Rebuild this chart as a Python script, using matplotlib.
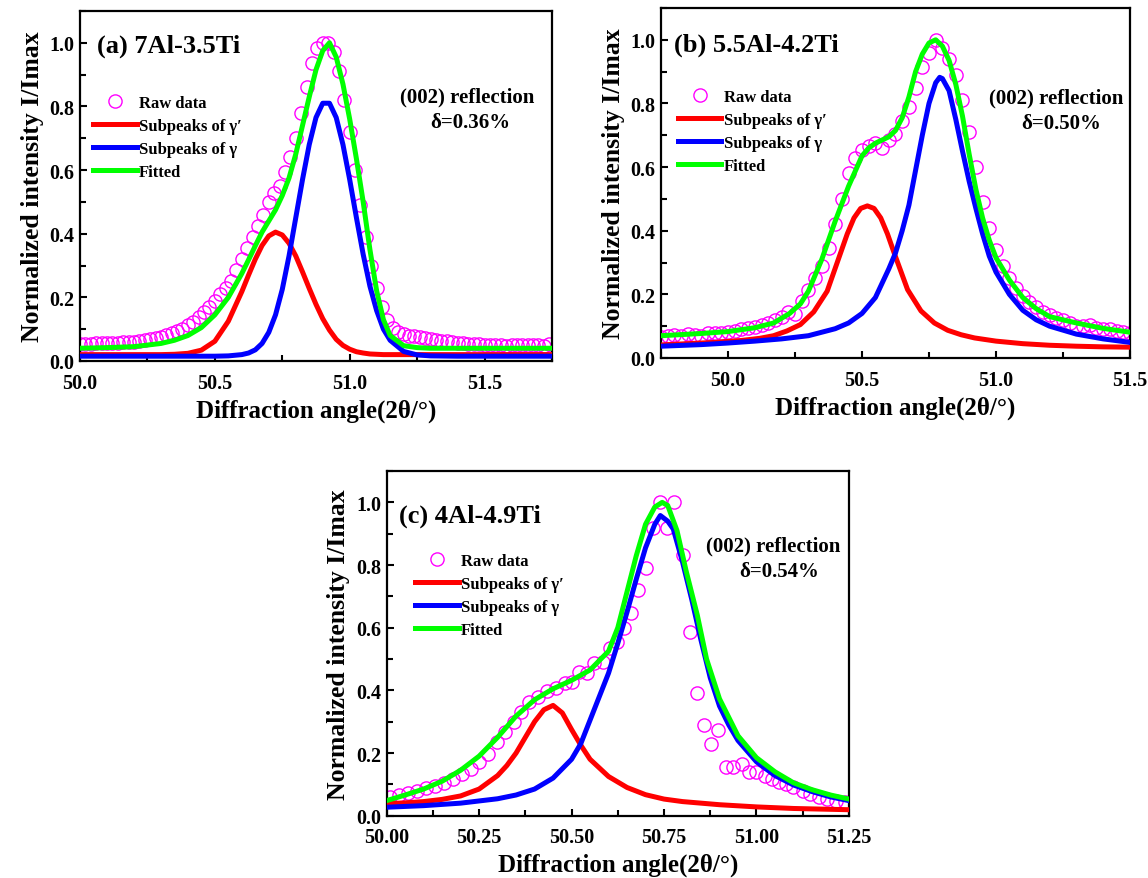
import matplotlib
matplotlib.use("Agg")
import matplotlib.pyplot as plt
from matplotlib.ticker import MultipleLocator, FormatStrFormatter

plt.rcParams['font.family'] = ['Liberation Serif', 'DejaVu Serif']
plt.rcParams['font.weight'] = 'bold'
plt.rcParams['axes.labelweight'] = 'bold'

# ---------------- (a) 7Al-3.5Ti ----------------
raw_x_a = [50.00, 50.02, 50.04, 50.06, 50.08, 50.10, 50.12, 50.14, 50.16, 50.18,
           50.20, 50.22, 50.24, 50.26, 50.28, 50.30, 50.32, 50.34, 50.36, 50.38,
           50.40, 50.42, 50.44, 50.46, 50.48, 50.50, 50.52, 50.54, 50.56, 50.58,
           50.60, 50.62, 50.64, 50.66, 50.68, 50.70, 50.72, 50.74, 50.76, 50.78,
           50.80, 50.82, 50.84, 50.86, 50.88, 50.90, 50.92, 50.94, 50.96, 50.98,
           51.00, 51.02, 51.04, 51.06, 51.08, 51.10, 51.12, 51.14, 51.16, 51.18,
           51.20, 51.22, 51.24, 51.26, 51.28, 51.30, 51.32, 51.34, 51.36, 51.38,
           51.40, 51.42, 51.44, 51.46, 51.48, 51.50, 51.52, 51.54, 51.56, 51.58,
           51.60, 51.62, 51.64, 51.66, 51.68, 51.70, 51.72, 51.74]
raw_y_a = [0.052, 0.053, 0.054, 0.055, 0.056, 0.057, 0.058, 0.058, 0.059, 0.060,
           0.061, 0.063, 0.065, 0.068, 0.072, 0.076, 0.081, 0.087, 0.094, 0.102,
           0.112, 0.123, 0.137, 0.153, 0.171, 0.190, 0.210, 0.230, 0.250, 0.285,
           0.320, 0.355, 0.390, 0.425, 0.460, 0.500, 0.528, 0.550, 0.595, 0.640,
           0.700, 0.780, 0.860, 0.935, 0.985, 1.000, 1.000, 0.970, 0.910, 0.820,
           0.720, 0.600, 0.490, 0.390, 0.300, 0.230, 0.170, 0.130, 0.105, 0.092,
           0.085, 0.080, 0.077, 0.074, 0.071, 0.068, 0.066, 0.064, 0.062, 0.060,
           0.058, 0.056, 0.054, 0.053, 0.052, 0.051, 0.050, 0.049, 0.050, 0.048,
           0.050, 0.049, 0.050, 0.051, 0.049, 0.050, 0.048, 0.052]
fit_x_a = [50.0, 50.1, 50.2, 50.3, 50.35, 50.4, 50.45, 50.5, 50.55, 50.6,
           50.625, 50.65, 50.675, 50.7, 50.725, 50.75, 50.775, 50.8, 50.825, 50.85,
           50.875, 50.9, 50.925, 50.95, 50.975, 51.0, 51.025, 51.05, 51.075, 51.1,
           51.125, 51.15, 51.2, 51.25, 51.3, 51.4, 51.5, 51.6, 51.75]
gamma_prime_a = [0.020, 0.020, 0.020, 0.020, 0.021, 0.024, 0.034, 0.062, 0.125, 0.218,
                 0.270, 0.320, 0.363, 0.393, 0.405, 0.396, 0.370, 0.330, 0.280, 0.228,
                 0.178, 0.133, 0.097, 0.068, 0.049, 0.037, 0.029, 0.025, 0.022, 0.021,
                 0.020, 0.020, 0.020, 0.020, 0.020, 0.020, 0.020, 0.020, 0.020]
gamma_a = [0.015, 0.015, 0.015, 0.015, 0.015, 0.015, 0.015, 0.015, 0.016, 0.020,
           0.025, 0.035, 0.055, 0.090, 0.145, 0.225, 0.330, 0.450, 0.570, 0.680,
           0.765, 0.810, 0.810, 0.765, 0.680, 0.570, 0.450, 0.335, 0.235, 0.158,
           0.100, 0.065, 0.030, 0.019, 0.016, 0.015, 0.015, 0.015, 0.015]
fitted_a = [0.040, 0.042, 0.045, 0.055, 0.065, 0.080, 0.105, 0.145, 0.200, 0.275,
            0.318, 0.362, 0.405, 0.440, 0.475, 0.520, 0.575, 0.650, 0.740, 0.830,
            0.915, 0.975, 1.000, 0.955, 0.870, 0.760, 0.635, 0.500, 0.350, 0.220,
            0.130, 0.080, 0.048, 0.042, 0.040, 0.040, 0.040, 0.040, 0.040]

# ---------------- (b) 5.5Al-4.2Ti ----------------
raw_x_b = [49.750, 49.775, 49.800, 49.825, 49.850, 49.875, 49.900, 49.925, 49.950, 49.975,
           50.000, 50.025, 50.050, 50.075, 50.100, 50.125, 50.150, 50.175, 50.200, 50.225,
           50.250, 50.275, 50.300, 50.325, 50.350, 50.375, 50.400, 50.425, 50.450, 50.475,
           50.500, 50.525, 50.550, 50.575, 50.600, 50.625, 50.650, 50.675, 50.700, 50.725,
           50.750, 50.775, 50.800, 50.825, 50.850, 50.875, 50.900, 50.925, 50.950, 50.975,
           51.000, 51.025, 51.050, 51.075, 51.100, 51.125, 51.150, 51.175, 51.200, 51.225,
           51.250, 51.275, 51.300, 51.325, 51.350, 51.375, 51.400, 51.425, 51.450, 51.475,
           51.500]
raw_y_b = [0.065, 0.070, 0.072, 0.068, 0.075, 0.073, 0.070, 0.078, 0.080, 0.077,
           0.082, 0.086, 0.090, 0.094, 0.098, 0.104, 0.110, 0.118, 0.128, 0.145,
           0.138, 0.180, 0.215, 0.250, 0.290, 0.345, 0.420, 0.500, 0.580, 0.630,
           0.655, 0.665, 0.675, 0.660, 0.685, 0.705, 0.745, 0.790, 0.850, 0.915,
           0.960, 1.000, 0.975, 0.940, 0.890, 0.810, 0.710, 0.600, 0.490, 0.410,
           0.340, 0.290, 0.250, 0.220, 0.195, 0.175, 0.160, 0.145, 0.135, 0.125,
           0.118, 0.110, 0.100, 0.100, 0.105, 0.095, 0.092, 0.090, 0.086, 0.082,
           0.080]
gp_x_b = [49.75, 49.85, 49.95, 50.05, 50.12, 50.17, 50.22, 50.27, 50.32, 50.37,
          50.42, 50.445, 50.47, 50.495, 50.52, 50.545, 50.57, 50.595, 50.62, 50.67,
          50.72, 50.77, 50.82, 50.87, 50.92, 51.0, 51.1, 51.2, 51.3, 51.4, 51.5]
gamma_prime_b = [0.041, 0.045, 0.049, 0.055, 0.062, 0.070, 0.085, 0.105, 0.145, 0.210,
                 0.330, 0.390, 0.440, 0.470, 0.478, 0.470, 0.440, 0.390, 0.330, 0.215,
                 0.148, 0.110, 0.087, 0.073, 0.063, 0.053, 0.045, 0.040, 0.037, 0.035, 0.034]
g_x_b = [49.75, 49.9, 50.0, 50.1, 50.2, 50.3, 50.4, 50.45, 50.5, 50.55,
         50.6, 50.625, 50.65, 50.675, 50.7, 50.725, 50.75, 50.775, 50.79, 50.8,
         50.825, 50.85, 50.875, 50.9, 50.925, 50.95, 50.975, 51.0, 51.05, 51.1,
         51.15, 51.2, 51.3, 51.4, 51.5]
gamma_b = [0.037, 0.042, 0.047, 0.053, 0.060, 0.070, 0.092, 0.110, 0.140, 0.190,
           0.280, 0.330, 0.400, 0.480, 0.590, 0.700, 0.800, 0.865, 0.882, 0.878,
           0.840, 0.750, 0.650, 0.555, 0.470, 0.390, 0.320, 0.270, 0.200, 0.150,
           0.120, 0.100, 0.075, 0.060, 0.049]
fit_x_b = [49.75, 49.9, 50.0, 50.1, 50.17, 50.23, 50.27, 50.3, 50.35, 50.4,
           50.45, 50.5, 50.525, 50.55, 50.6, 50.625, 50.65, 50.675, 50.7, 50.725,
           50.75, 50.775, 50.8, 50.825, 50.85, 50.875, 50.9, 50.925, 50.95, 50.975,
           51.0, 51.05, 51.1, 51.15, 51.2, 51.3, 51.4, 51.5]
fitted_b = [0.070, 0.077, 0.083, 0.095, 0.110, 0.140, 0.170, 0.210, 0.310, 0.430,
            0.540, 0.635, 0.660, 0.675, 0.695, 0.715, 0.755, 0.820, 0.900, 0.955,
            0.990, 1.000, 0.980, 0.935, 0.860, 0.760, 0.640, 0.530, 0.440, 0.370,
            0.315, 0.245, 0.190, 0.155, 0.130, 0.110, 0.093, 0.081]

# ---------------- (c) 4Al-4.9Ti ----------------
raw_x_c = [50.010, 50.034, 50.058, 50.082, 50.106, 50.130, 50.154, 50.179, 50.203, 50.227,
           50.251, 50.275, 50.299, 50.319, 50.343, 50.362, 50.386, 50.410, 50.434, 50.458,
           50.483, 50.502, 50.521, 50.541, 50.560, 50.584, 50.603, 50.623, 50.642, 50.661,
           50.680, 50.700, 50.719, 50.738, 50.758, 50.777, 50.801, 50.820, 50.840, 50.859,
           50.878, 50.897, 50.917, 50.936, 50.960, 50.980, 51.000, 51.023, 51.042, 51.062,
           51.081, 51.100, 51.125, 51.144, 51.168, 51.192, 51.216, 51.240]
raw_y_c = [0.059, 0.066, 0.072, 0.080, 0.088, 0.096, 0.105, 0.117, 0.133, 0.149,
           0.171, 0.197, 0.235, 0.267, 0.299, 0.331, 0.363, 0.379, 0.397, 0.406,
           0.422, 0.427, 0.459, 0.454, 0.486, 0.491, 0.534, 0.555, 0.598, 0.646,
           0.720, 0.790, 0.918, 1.000, 0.918, 1.000, 0.832, 0.587, 0.390, 0.288,
           0.229, 0.272, 0.155, 0.155, 0.165, 0.139, 0.139, 0.128, 0.117, 0.107,
           0.101, 0.091, 0.080, 0.069, 0.059, 0.053, 0.048, 0.043]
gp_x_c = [50.0, 50.05, 50.1, 50.15, 50.2, 50.25, 50.3, 50.325, 50.35, 50.375,
          50.4, 50.425, 50.45, 50.475, 50.5, 50.525, 50.55, 50.6, 50.65, 50.7,
          50.75, 50.8, 50.9, 51.0, 51.1, 51.25]
gamma_prime_c = [0.038, 0.041, 0.045, 0.052, 0.063, 0.085, 0.128, 0.160, 0.200, 0.250,
                 0.300, 0.338, 0.352, 0.328, 0.275, 0.225, 0.180, 0.125, 0.090, 0.067,
                 0.053, 0.045, 0.035, 0.028, 0.023, 0.019]
g_x_c = [50.0, 50.1, 50.2, 50.3, 50.35, 50.4, 50.45, 50.5, 50.525, 50.55,
         50.575, 50.6, 50.625, 50.65, 50.675, 50.7, 50.725, 50.74, 50.76, 50.775,
         50.8, 50.825, 50.85, 50.875, 50.9, 50.925, 50.95, 51.0, 51.05, 51.1,
         51.15, 51.2, 51.25]
gamma_c = [0.027, 0.032, 0.040, 0.054, 0.066, 0.085, 0.120, 0.180, 0.230, 0.305,
           0.380, 0.455, 0.550, 0.650, 0.755, 0.855, 0.930, 0.958, 0.940, 0.915,
           0.810, 0.690, 0.560, 0.440, 0.350, 0.290, 0.240, 0.172, 0.128, 0.098,
           0.077, 0.060, 0.048]
fit_x_c = [50.0, 50.05, 50.1, 50.15, 50.2, 50.25, 50.3, 50.35, 50.4, 50.45,
           50.5, 50.55, 50.6, 50.625, 50.65, 50.675, 50.7, 50.725, 50.745, 50.76,
           50.785, 50.81, 50.84, 50.865, 50.9, 50.95, 51.0, 51.05, 51.1, 51.15,
           51.2, 51.25]
fitted_c = [0.048, 0.066, 0.085, 0.110, 0.145, 0.190, 0.250, 0.318, 0.370, 0.405,
            0.432, 0.465, 0.525, 0.600, 0.715, 0.830, 0.930, 0.985, 1.000, 0.990,
            0.910, 0.780, 0.640, 0.500, 0.373, 0.255, 0.185, 0.140, 0.105, 0.083,
            0.066, 0.053]

panel_titles = ['(a) 7Al-3.5Ti', '(b) 5.5Al-4.2Ti', '(c) 4Al-4.9Ti']
deltas = ['\u03b4=0.36%', '\u03b4=0.50%', '\u03b4=0.54%']
legend_labels = ['Raw data', 'Subpeaks of \u03b3\u2032', 'Subpeaks of \u03b3', 'Fitted']

panels = [
    dict(rect=[0.0697, 0.5882, 0.4111, 0.3982], xlim=(50.0, 51.75), major=0.5, minor=0.25, fmt='%.1f',
         raw=(raw_x_a, raw_y_a), gp=(fit_x_a, gamma_prime_a), g=(fit_x_a, gamma_a), fit=(fit_x_a, fitted_a),
         title_xy=(0.036, 0.902), refl_xy=(0.82, 0.757), delta_xy=(0.826, 0.683), leg_xy=(0.028, 0.759)),
    dict(rect=[0.5758, 0.5916, 0.4085, 0.3982], xlim=(49.75, 51.5), major=0.5, minor=0.25, fmt='%.1f',
         raw=(raw_x_b, raw_y_b), gp=(gp_x_b, gamma_prime_b), g=(g_x_b, gamma_b), fit=(fit_x_b, fitted_b),
         title_xy=(0.028, 0.895), refl_xy=(0.842, 0.745), delta_xy=(0.853, 0.670), leg_xy=(0.036, 0.768)),
    dict(rect=[0.3368, 0.0709, 0.4027, 0.3921], xlim=(50.0, 51.25), major=0.25, minor=0.125, fmt='%.2f',
         raw=(raw_x_c, raw_y_c), gp=(gp_x_c, gamma_prime_c), g=(g_x_c, gamma_c), fit=(fit_x_c, fitted_c),
         title_xy=(0.027, 0.872), refl_xy=(0.836, 0.785), delta_xy=(0.850, 0.710), leg_xy=(0.062, 0.762)),
]

fig = plt.figure(figsize=(11.48, 8.79), dpi=100)

for i, p in enumerate(panels):
    ax = fig.add_axes(p['rect'])
    ax.plot(*p['raw'], 'o', mfc='none', mec='#FF00FF', ms=9.5, mew=1.0,
            label=legend_labels[0], zorder=2)
    ax.plot(*p['gp'], color='#FF0000', lw=3.6, label=legend_labels[1], zorder=3,
            solid_joinstyle='round')
    ax.plot(*p['g'], color='#0000FF', lw=3.6, label=legend_labels[2], zorder=4,
            solid_joinstyle='round')
    ax.plot(*p['fit'], color='#00FF00', lw=3.6, label=legend_labels[3], zorder=5,
            solid_joinstyle='round')

    ax.set_xlim(*p['xlim'])
    ax.set_ylim(0, 1.1)
    ax.xaxis.set_major_locator(MultipleLocator(p['major']))
    ax.xaxis.set_minor_locator(MultipleLocator(p['minor']))
    ax.yaxis.set_major_locator(MultipleLocator(0.2))
    ax.yaxis.set_minor_locator(MultipleLocator(0.1))
    ax.xaxis.set_major_formatter(FormatStrFormatter(p['fmt']))
    ax.yaxis.set_major_formatter(FormatStrFormatter('%.1f'))
    ax.tick_params(which='both', direction='in', top=False, right=False,
                   labelsize=14.5, width=1.5)
    ax.tick_params(axis='x', which='major', pad=8.4)
    ax.tick_params(axis='y', which='major', pad=4)
    ax.tick_params(which='major', length=5)
    ax.tick_params(which='minor', length=4)
    for lab in ax.get_xticklabels() + ax.get_yticklabels():
        lab.set_fontweight('bold')
    for s in ax.spines.values():
        s.set_linewidth(1.6)

    ax.set_xlabel('Diffraction angle(2\u03b8/\u00b0)', fontsize=18, labelpad=4)
    ax.set_ylabel('Normalized intensity I/Imax', fontsize=18.5, labelpad=4)

    ax.text(*p['title_xy'], panel_titles[i], transform=ax.transAxes,
            fontsize=19, fontweight='bold', ha='left', va='center')
    ax.text(*p['refl_xy'], '(002) reflection', transform=ax.transAxes,
            fontsize=15, fontweight='bold', ha='center', va='center')
    ax.text(*p['delta_xy'], deltas[i], transform=ax.transAxes,
            fontsize=15, fontweight='bold', ha='center', va='center')

    ax.legend(loc='upper left', bbox_to_anchor=p['leg_xy'], frameon=False,
              prop={'size': 12, 'weight': 'bold'}, handlelength=2.6,
              handletextpad=0.15, labelspacing=0.42, borderpad=0,
              borderaxespad=0, markerscale=1.0)

fig.savefig('out.png', dpi=100)
